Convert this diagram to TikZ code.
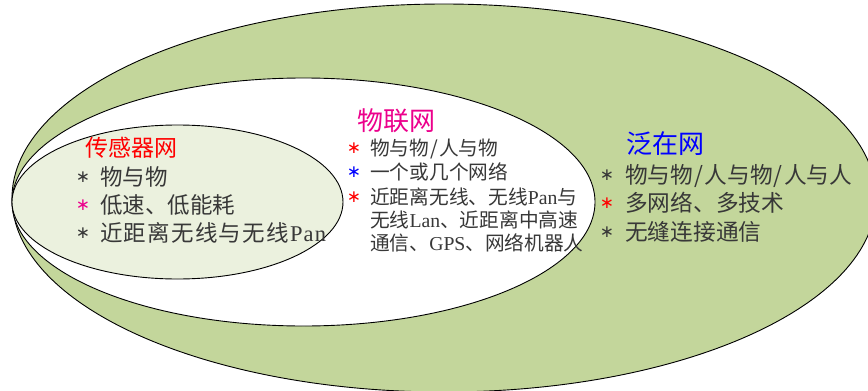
\documentclass[tikz,border=0pt]{standalone}
\usepackage{fontspec}
\setmainfont{Liberation Serif}
\newfontfamily\cjk{Noto Sans CJK SC}
\newfontfamily\symf{DejaVu Sans}
\newcommand\slashh{\makebox[0.5em]{/}}
\definecolor{outerfill}{HTML}{C3D69B}
\definecolor{innerfill}{HTML}{EBF1DE}
\definecolor{txt}{HTML}{383838}
\tikzset{
  ell/.style={draw=black, line width=0.9pt},
  ttl/.style={anchor=base west, inner sep=0pt},
  body/.style={anchor=base west, inner sep=0pt, text=txt},
  star/.style={inner sep=0pt, font=\symf\fontsize{17}{17}\selectfont},
}
\begin{document}
\begin{tikzpicture}[x=1pt,y=-1pt]
\useasboundingbox (0,0) rectangle (868,391);
% ellipses
\filldraw[ell, fill=outerfill] (444,198) ellipse [x radius=432, y radius=194];
\filldraw[ell, fill=white] (303.5,202) ellipse [x radius=291.5, y radius=124];
\filldraw[ell, fill=innerfill] (177.5,202) ellipse [x radius=165.5, y radius=77];

% sensor network
\node[ttl, text=red, font=\cjk\fontsize{23}{23}\selectfont] (st) at (85,156.7) {传感器网};
\node[star, text=txt] (s1) at (83,177) {∗};
\node[star, text=magenta] (s2) at (83,205) {∗};
\node[star, text=txt] (s3) at (83,233) {∗};
\node[body, font=\cjk\fontsize{22.5}{22.5}\selectfont] (l1) at (100,185.5) {物与物};
\node[body, font=\cjk\fontsize{22.5}{22.5}\selectfont] (l2) at (100,213.5) {低速、低能耗};
\node[body, font=\cjk\fontsize{22.5}{22.5}\selectfont] (l3) at (100,241.5) {\makebox[226pt][s]{近\hfil 距\hfil 离\hfil 无\hfil 线\hfil 与\hfil 无\hfil 线\hfil {\rmfamily P\hfil a\hfil n}}};

% IoT
\node[ttl, text=magenta, font=\cjk\fontsize{26}{26}\selectfont] (mt) at (357,130) {物联网};
\node[star, text=red] (m1) at (354,148) {∗};
\node[star, text=blue] (m2) at (354,172) {∗};
\node[star, text=red] (m3) at (354,197) {∗};
\node[body, font=\cjk\fontsize{19.7}{19.7}\selectfont] (k1) at (370,155.5) {物与物\slashh 人与物};
\node[body, font=\cjk\fontsize{19.7}{19.7}\selectfont] (k2) at (370,179.5) {一个或几个网络};
\node[body, font=\cjk\fontsize{19.7}{19.7}\selectfont] (k3) at (370,204.5) {近距离无线、无线{\rmfamily Pan}与};
\node[body, font=\cjk\fontsize{19.7}{19.7}\selectfont] (k4) at (370,227.5) {无线{\rmfamily Lan}、近距离中高速};
\node[body, font=\cjk\fontsize{19.7}{19.7}\selectfont] (k5) at (370,250.5) {通信、{\rmfamily GPS}、网络机器人};

% ubiquitous network
\node[ttl, text=blue, font=\cjk\fontsize{26}{26}\selectfont] (ut) at (626,153) {泛在网};
\node[star, text=txt] (u1) at (607,175) {∗};
\node[star, text=red] (u2) at (607,203) {∗};
\node[star, text=txt] (u3) at (607,232) {∗};
\node[body, font=\cjk\fontsize{22.7}{22.7}\selectfont] (j1) at (625,183.6) {物与物\slashh 人与物\slashh 人与人};
\node[body, font=\cjk\fontsize{22.7}{22.7}\selectfont] (j2) at (625,211.6) {多网络、多技术};
\node[body, font=\cjk\fontsize{22.7}{22.7}\selectfont] (j3) at (625,240.6) {无缝连接通信};
\end{tikzpicture}
\end{document}
